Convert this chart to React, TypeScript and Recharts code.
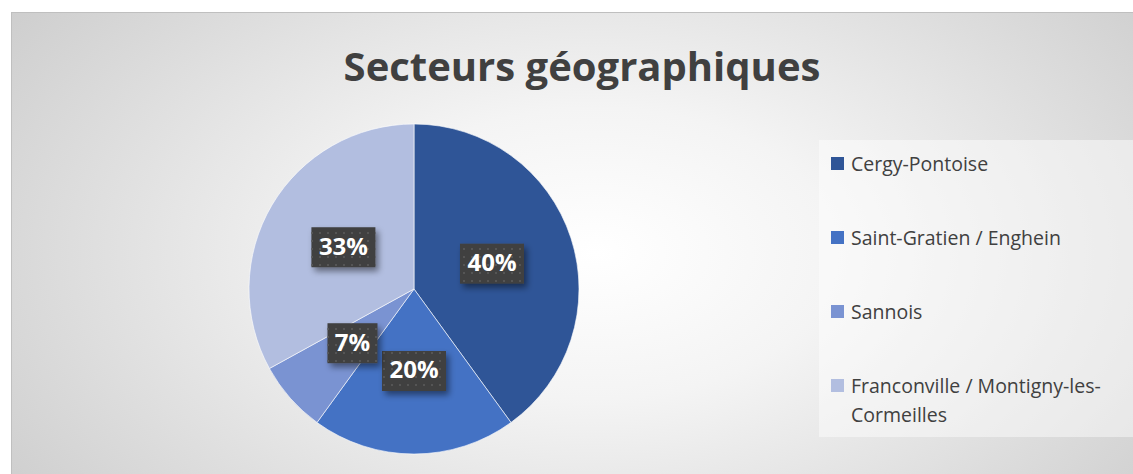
import { PieChart, Pie, Cell, Legend } from "recharts";

const sectors = [
  "Cergy-Pontoise",
  "Saint-Gratien / Enghein",
  "Sannois",
  "Franconville / Montigny-les-Cormeilles",
];
const shares = [40, 20, 7, 33];
const colors = ["#2f5597", "#4472c4", "#7a93d2", "#b2bee0"];

const data = sectors.map((name, i) => ({ name, value: shares[i] }));

const RAD = Math.PI / 180;
const FONT = "'Open Sans', sans-serif";

function SliceLabel(props: any) {
  const { cx, cy, midAngle, percent } = props;
  const r = 82;
  const x = cx + r * Math.cos(-midAngle * RAD);
  const y = cy + r * Math.sin(-midAngle * RAD);
  const text = `${Math.round(percent * 100)}%`;
  const w = text.length > 2 ? 64 : 50;
  const h = 40;
  return (
    <g>
      <rect x={x - w / 2} y={y - h / 2} width={w} height={h} fill="#404040" filter="url(#boxShadow)" />
      <rect x={x - w / 2} y={y - h / 2} width={w} height={h} fill="url(#dots)" />
      <text
        x={x}
        y={y + 1}
        textAnchor="middle"
        dominantBaseline="middle"
        fill="#ffffff"
        fontFamily={FONT}
        fontWeight={700}
        fontSize={24}
      >
        {text}
      </text>
    </g>
  );
}

// legend drawn in the original order (recharts would sort it by name)
function LegendBox() {
  return (
    <div
      style={{
        width: 314,
        height: 297,
        background: "rgba(255,255,255,0.45)",
        boxSizing: "border-box",
        paddingLeft: 12,
        paddingTop: 9,
        fontFamily: FONT,
        fontSize: 19.5,
        color: "#404040",
      }}
    >
      {sectors.map((name, i) => (
        <div key={name} style={{ display: "flex", alignItems: "flex-start", height: 74, lineHeight: "29px" }}>
          <span
            style={{
              width: 13,
              height: 13,
              background: colors[i],
              marginTop: 8,
              marginRight: 7,
              flexShrink: 0,
            }}
          />
          <span style={{ width: 285 }}>{name}</span>
        </div>
      ))}
    </div>
  );
}

export default function App() {
  return (
    <div style={{ position: "absolute", left: 0, top: 0, width: 1133, height: 474, background: "#fff", overflow: "hidden" }}>
      <div
        style={{
          position: "absolute",
          left: 11,
          top: 12,
          width: 1122,
          height: 462,
          borderTop: "1px solid #bfbfbf",
          borderLeft: "1px solid #bfbfbf",
          background: "radial-gradient(ellipse 72% 105% at 52% 52%, #ffffff 0%, #f4f4f4 30%, #c6c6c6 100%)",
        }}
      >
        <div
          style={{
            position: "absolute",
            left: 0,
            top: 25,
            width: 1140,
            textAlign: "center",
            fontFamily: FONT,
            fontWeight: 700,
            fontSize: 40,
            color: "#404040",
            lineHeight: "56px",
          }}
        >
          Secteurs géographiques
        </div>
        <div style={{ position: "absolute", left: 0, top: 0 }}>
          <PieChart width={1122} height={462} margin={{ top: 0, right: 0, bottom: 0, left: 0 }}>
            <defs>
              <pattern id="dots" width="8" height="8" patternUnits="userSpaceOnUse">
                <rect x="3" y="3" width="2" height="2" fill="#555555" />
              </pattern>
              <filter id="boxShadow" x="-30%" y="-30%" width="160%" height="170%">
                <feDropShadow dx="3" dy="4" stdDeviation="3" floodColor="#000" floodOpacity="0.45" />
              </filter>
            </defs>
            <Pie
              data={data}
              dataKey="value"
              nameKey="name"
              cx={402}
              cy={276}
              outerRadius={165}
              startAngle={90}
              endAngle={-270}
              stroke="rgba(255,255,255,0.6)"
              strokeWidth={1}
              label={SliceLabel}
              labelLine={false}
              isAnimationActive={false}
            >
              {data.map((d, i) => (
                <Cell key={d.name} fill={colors[i]} />
              ))}
            </Pie>
            <Legend
              layout="vertical"
              align="right"
              verticalAlign="top"
              content={<LegendBox />}
              wrapperStyle={{ left: 807, top: 127, width: 314 }}
            />
          </PieChart>
        </div>
      </div>
    </div>
  );
}
